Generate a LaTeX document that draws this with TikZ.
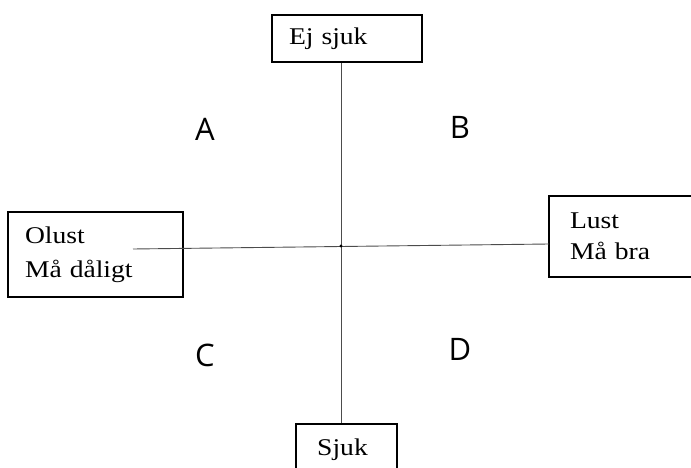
\documentclass[tikz,border=0pt]{standalone}
\usepackage{fontspec}
\setmainfont{Liberation Serif}[FakeStretch=1.15]
\newfontfamily\labfont{Open Sans}
\begin{document}
\begin{tikzpicture}[x=1pt,y=-1pt,
  box/.style={draw=black,line width=1.8pt,inner sep=0pt,font=\fontsize{24}{33}\selectfont},
  quad/.style={font=\labfont\fontsize{31}{34}\selectfont,inner sep=0pt},
  axis/.style={draw=black!70,line width=0.9pt}]
\useasboundingbox (0,0) rectangle (691,468);
\clip (0,0) rectangle (691,468);
\node[box,text width=116pt,align=left,inner xsep=17pt,minimum height=47pt] (top) at (347,38.5) {Ej sjuk};
\node[box,minimum width=101pt,minimum height=52pt] (bot) at (346.5,450) {\hspace*{-8pt}\raisebox{5pt}{Sjuk}};
\node[box,text width=141pt,align=left,inner xsep=17pt,minimum height=85pt] (left) at (95.5,254.5) {Olust\\[1pt]Må dåligt};
\node[box,text width=120pt,align=left,inner xsep=21pt,minimum height=81pt] (right) at (630,236.5) {Lust\\[-2pt]Må bra};
\coordinate (c) at (341,246);
\coordinate (h1) at (133,249);
\coordinate (h2) at (549,244);
\draw[axis] (top.south -| c) -- (bot.north -| c);
\draw[axis] (h1) -- (h2);
\fill (c) circle (1.6pt);
\node[quad] (A) at (205,129) {A};
\node[quad] (B) at (460,127) {B};
\node[quad] (C) at (205,355) {C};
\node[quad] (D) at (460,349) {D};
\end{tikzpicture}
\end{document}
